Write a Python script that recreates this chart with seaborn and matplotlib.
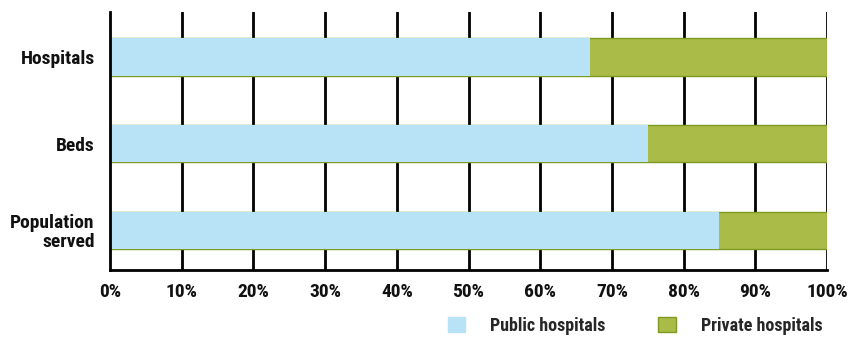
import matplotlib
matplotlib.use("Agg")
import matplotlib.pyplot as plt
import seaborn as sns
import pandas as pd
from matplotlib.patches import Patch
from matplotlib import font_manager

categories = ["Hospitals", "Beds", "Population\nserved"]
public = [67, 75, 85]
private = [33, 25, 15]
xticks = [0, 10, 20, 30, 40, 50, 60, 70, 80, 90, 100]
xtick_labels = [f"{v}%" for v in xticks]
series_names = ["Public hospitals", "Private hospitals"]

blue = "#b8e2f6"
green = "#aabb48"
green_edge = "#7f9a22"

sns.set_theme(style="white")
names = {f.name for f in font_manager.fontManager.ttflist}
fam = [n for n in ["Roboto Condensed", "Open Sans Condensed", "Roboto"] if n in names] + ["DejaVu Sans"]
plt.rcParams['font.family'] = fam
condensed = fam[0] in ("Roboto Condensed", "Open Sans Condensed")
fs = 14 if condensed else 12
lfs = 13 if condensed else 11

df = pd.DataFrame({"cat": categories, "public": public,
                   "total": [a + b for a, b in zip(public, private)]})

fig = plt.figure(figsize=(8.55, 3.38), dpi=100)
ax = fig.add_axes([0.1287, 0.201, 0.8386, 0.7635])

sns.barplot(data=df, x="total", y="cat", orient="h", color=green, width=0.43,
            edgecolor=green_edge, linewidth=1.0, ax=ax, zorder=3, saturation=1)
sns.barplot(data=df, x="public", y="cat", orient="h", color=blue, width=0.43,
            linewidth=0, ax=ax, zorder=4, saturation=1)

for v in xticks[1:]:
    ax.axvline(v, color="black", lw=2.0, zorder=1)

ax.set_xlim(0, 100)
ax.set_ylim(2.46, -0.52)
ax.set_xticks(xticks)
ax.set_xticklabels(xtick_labels)
ax.set_xlabel("")
ax.set_ylabel("")
for s in ["top", "right"]:
    ax.spines[s].set_visible(False)
for s in ["left", "bottom"]:
    ax.spines[s].set_color("black")
    ax.spines[s].set_linewidth(2.0)
    ax.spines[s].set_zorder(5)
ax.tick_params(axis="x", direction="inout", length=8, width=2, colors="black", pad=5)
ax.tick_params(axis="y", length=0, pad=11)
for lab in ax.get_xticklabels() + ax.get_yticklabels():
    lab.set_fontweight("bold")
    lab.set_fontsize(fs)
    lab.set_color("#111111")
for lab in ax.get_yticklabels():
    lab.set_horizontalalignment("right")
    lab.set_multialignment("right")
    lab.set_linespacing(1.05)

handles = [Patch(facecolor=blue, edgecolor=blue), Patch(facecolor=green, edgecolor=green_edge)]
for h, name, x0 in zip(handles, series_names, [0.524, 0.770]):
    fig.legend([h], [name], loc="center left", bbox_to_anchor=(x0, 0.035),
               frameon=False, handlelength=0.95, handleheight=0.9,
               handletextpad=1.4, borderaxespad=0, borderpad=0,
               prop={"weight": "bold", "size": lfs})

fig.savefig("out.png", dpi=100)
